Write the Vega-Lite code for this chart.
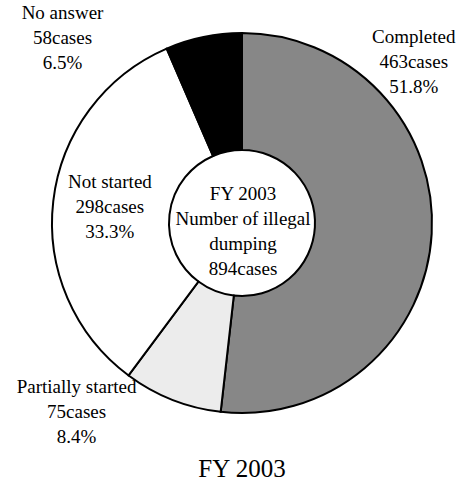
{
  "$schema": "https://vega.github.io/schema/vega-lite/v6.json",
  "width": 484,
  "height": 446,
  "autosize": {"type": "none"},
  "padding": {"left": 0, "top": 0, "right": 0, "bottom": 42},
  "background": "white",
  "config": {"view": {"stroke": null}},
  "title": {"text": "FY 2003", "orient": "bottom", "font": "Liberation Serif, DejaVu Serif, serif", "fontSize": 25, "fontWeight": "normal", "color": "black", "anchor": "middle", "offset": 10, "frame": "group"},
  "datasets": {
    "pie": [
      {"category": "Completed", "cases": 463, "order": 1, "label": ["Completed", "463cases", "51.8%"]},
      {"category": "Partially started", "cases": 75, "order": 2, "label": ["Partially started", "75cases", "8.4%"]},
      {"category": "Not started", "cases": 298, "order": 3, "label": ["Not started", "298cases", "33.3%"]},
      {"category": "No answer", "cases": 58, "order": 4, "label": ["No answer", "58cases", "6.5%"]}
    ],
    "center": [
      {"t": ["FY 2003", "Number of illegal", "dumping", "894cases"]}
    ]
  },
  "layer": [
    {
      "data": {"name": "pie"},
      "mark": {"type": "arc", "outerRadius": 190, "innerRadius": 73, "stroke": "black", "strokeWidth": 2},
      "encoding": {
        "theta": {"field": "cases", "type": "quantitative", "stack": true},
        "order": {"field": "order", "type": "quantitative"},
        "color": {"field": "category", "type": "nominal", "legend": null,
          "scale": {"domain": ["Completed", "Partially started", "Not started", "No answer"], "range": ["#878787", "#ececec", "#ffffff", "#000000"]}}
      }
    },
    {
      "data": {"name": "pie"},
      "mark": {"type": "text", "font": "Liberation Serif, DejaVu Serif, serif", "fontSize": 19, "lineHeight": 25, "color": "black", "align": "center", "baseline": "middle", "radius": 170, "dx": 2, "dy": -196},
      "encoding": {
        "theta": {"field": "cases", "type": "quantitative", "stack": true},
        "order": {"field": "order", "type": "quantitative"},
        "text": {"condition": {"test": "datum.category === 'Completed'", "field": "label"}, "value": ""}
      }
    },
    {
      "data": {"name": "pie"},
      "mark": {"type": "text", "font": "Liberation Serif, DejaVu Serif, serif", "fontSize": 19, "lineHeight": 25, "color": "black", "align": "center", "baseline": "middle", "radius": 200, "dx": -92, "dy": -22},
      "encoding": {
        "theta": {"field": "cases", "type": "quantitative", "stack": true},
        "order": {"field": "order", "type": "quantitative"},
        "text": {"condition": {"test": "datum.category === 'Partially started'", "field": "label"}, "value": ""}
      }
    },
    {
      "data": {"name": "pie"},
      "mark": {"type": "text", "font": "Liberation Serif, DejaVu Serif, serif", "fontSize": 19, "lineHeight": 25, "color": "black", "align": "center", "baseline": "middle", "radius": 132, "dx": -1, "dy": -26},
      "encoding": {
        "theta": {"field": "cases", "type": "quantitative", "stack": true},
        "order": {"field": "order", "type": "quantitative"},
        "text": {"condition": {"test": "datum.category === 'Not started'", "field": "label"}, "value": ""}
      }
    },
    {
      "data": {"name": "pie"},
      "mark": {"type": "text", "font": "Liberation Serif, DejaVu Serif, serif", "fontSize": 19, "lineHeight": 25, "color": "black", "align": "center", "baseline": "middle", "radius": 200, "dx": -139, "dy": -14},
      "encoding": {
        "theta": {"field": "cases", "type": "quantitative", "stack": true},
        "order": {"field": "order", "type": "quantitative"},
        "text": {"condition": {"test": "datum.category === 'No answer'", "field": "label"}, "value": ""}
      }
    },
    {
      "data": {"name": "center"},
      "mark": {"type": "text", "font": "Liberation Serif, DejaVu Serif, serif", "fontSize": 19, "lineHeight": 25, "color": "black", "align": "center", "baseline": "middle", "dx": 1, "dy": -29},
      "encoding": {
        "text": {"field": "t", "type": "nominal"}
      }
    }
  ]
}
